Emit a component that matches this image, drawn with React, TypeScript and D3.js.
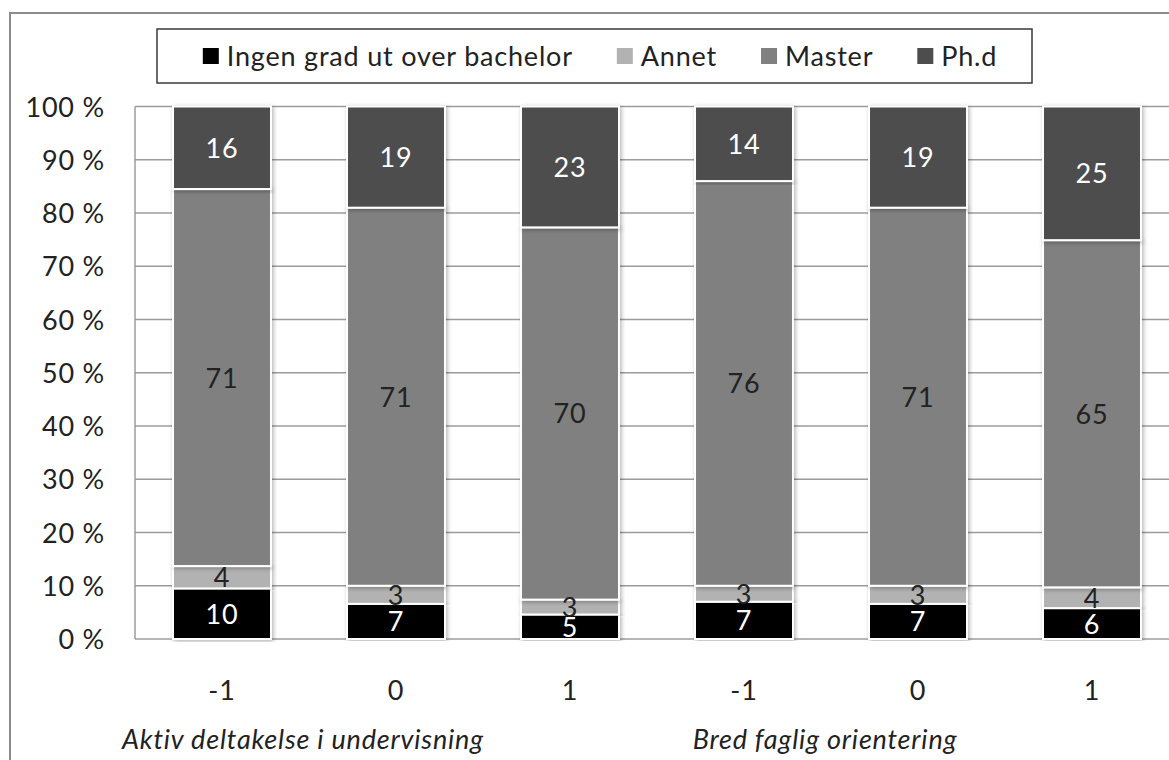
import React, { useEffect, useRef } from "react";
import * as d3 from "d3";

// categories on the x axis (two groups of three)
const categories = ["-1", "0", "1", "-1", "0", "1"];
const groupLabels = ["Aktiv deltakelse i undervisning", "Bred faglig orientering"];
const seriesNames = ["Ingen grad ut over bachelor", "Annet", "Master", "Ph.d"];

// series values (percent), labels shown rounded
const ingen = [9.5, 6.6, 4.6, 7.0, 6.6, 5.8];
const annet = [4.2, 3.4, 2.8, 3.0, 3.4, 3.9];
const master = [70.8, 71.0, 69.9, 76.0, 71.0, 65.2];
const phd = [15.5, 19.0, 22.7, 14.0, 19.0, 25.1];

const yTicks = [0, 10, 20, 30, 40, 50, 60, 70, 80, 90, 100];

const colors = ["#000000", "#b2b2b2", "#808080", "#4d4d4d"];
const labelColors = ["#ffffff", "#222222", "#222222", "#ffffff"];

const W = 1169;
const H = 760;
const FONT = "Lato, 'Open Sans', sans-serif";
const FS = 27;
const LS = "0.8px";

export default function App() {
  const ref = useRef<SVGSVGElement>(null);

  useEffect(() => {
    document.body.style.margin = "0";
    const svg = d3.select(ref.current);
    svg.selectAll("*").remove();

    const defs = svg.append("defs");
    const f = defs.append("filter").attr("id", "shadow").attr("x", "-20%").attr("y", "-5%").attr("width", "140%").attr("height", "110%");
    f.append("feDropShadow").attr("dx", 1.5).attr("dy", 1.5).attr("stdDeviation", 2).attr("flood-color", "#000").attr("flood-opacity", 0.3);

    svg.append("rect").attr("width", W).attr("height", H).attr("fill", "#fff");

    // outer chart frame (cropped at right/bottom)
    svg.append("rect")
      .attr("x", 10).attr("y", 13)
      .attr("width", W + 20).attr("height", H + 20)
      .attr("fill", "none").attr("stroke", "#8c8c8c").attr("stroke-width", 2);

    const left = 135, right = 135 + 174 * 6;
    const top = 106.5, bottom = 639;

    const x = d3.scaleBand<number>()
      .domain(d3.range(categories.length))
      .range([left, right])
      .paddingInner(0.437)
      .paddingOuter(0.2185);
    const y = d3.scaleLinear().domain([0, 100]).range([bottom, top]);

    const txt = (sel: any) =>
      sel.style("font-family", FONT).style("font-size", FS + "px").style("letter-spacing", LS);

    // gridlines
    svg.append("g").selectAll("line").data(yTicks).join("line")
      .attr("x1", left).attr("x2", right)
      .attr("y1", (d) => y(d)).attr("y2", (d) => y(d))
      .attr("stroke", "#9c9c9c").attr("stroke-width", 1.5);
    svg.append("line")
      .attr("x1", left).attr("x2", left).attr("y1", top).attr("y2", bottom)
      .attr("stroke", "#9c9c9c").attr("stroke-width", 1.5);

    // y tick labels
    svg.append("g").selectAll("text").data(yTicks).join("text")
      .attr("x", 105).attr("y", (d) => y(d) + 10)
      .attr("text-anchor", "end")
      .attr("fill", "#222")
      .call(txt)
      .text((d) => `${d} %`);

    // stacked data
    const rows = categories.map((c, i) => ({ i, s0: ingen[i], s1: annet[i], s2: master[i], s3: phd[i] }));
    const stack = d3.stack<any>().keys(["s0", "s1", "s2", "s3"]).offset(d3.stackOffsetExpand);
    const series = stack(rows);

    const bars = svg.append("g");
    series.forEach((s, si) => {
      bars.append("g").selectAll("rect").data(s).join("rect")
        .attr("x", (d) => x(d.data.i)!)
        .attr("width", x.bandwidth())
        .attr("y", (d) => y(d[1] * 100))
        .attr("height", (d) => y(d[0] * 100) - y(d[1] * 100))
        .attr("fill", colors[si])
        .attr("stroke", "#fff").attr("stroke-width", 2)
        .attr("filter", "url(#shadow)");
    });
    series.forEach((s, si) => {
      bars.append("g").selectAll("text").data(s).join("text")
        .attr("x", (d) => x(d.data.i)! + x.bandwidth() / 2)
        .attr("y", (d) => (y(d[0] * 100) + y(d[1] * 100)) / 2 + 10)
        .attr("text-anchor", "middle")
        .attr("fill", labelColors[si])
        .call(txt)
        .text((d) => Math.round(d.data["s" + si]));
    });

    // x tick labels
    svg.append("g").selectAll("text").data(categories).join("text")
      .attr("x", (d, i) => x(i)! + x.bandwidth() / 2)
      .attr("y", 700)
      .attr("text-anchor", "middle")
      .attr("fill", "#222")
      .call(txt)
      .text((d) => d);

    // group labels
    svg.append("g").selectAll("text").data(groupLabels).join("text")
      .attr("x", (d, gi) => (x(gi * 3)! + x(gi * 3 + 1)!) / 2 + x.bandwidth() / 2 - 6)
      .attr("y", 749)
      .attr("text-anchor", "middle")
      .attr("fill", "#222")
      .call(txt)
      .style("font-style", "italic")
      .text((d) => d);

    // legend
    const lg = svg.append("g");
    lg.append("rect").attr("x", 157).attr("y", 29).attr("width", 875).attr("height", 54)
      .attr("fill", "#fff").attr("stroke", "#3a3a3a").attr("stroke-width", 1.5);
    const items = lg.append("g");
    let cx = 0;
    seriesNames.forEach((name, si) => {
      const it = items.append("g").attr("transform", `translate(${cx},0)`);
      it.append("rect").attr("x", 0).attr("y", 48).attr("width", 16).attr("height", 16).attr("fill", colors[si]);
      const t = it.append("text").attr("x", 24).attr("y", 66)
        .attr("fill", "#222").call(txt).text(name);
      const w = (t.node() as SVGTextElement).getComputedTextLength();
      cx += 24 + w + 44;
    });
    const total = cx - 44;
    items.attr("transform", `translate(${600 - total / 2},0)`);
  }, []);

  return <svg ref={ref} width={W} height={H} style={{ display: "block" }} />;
}
